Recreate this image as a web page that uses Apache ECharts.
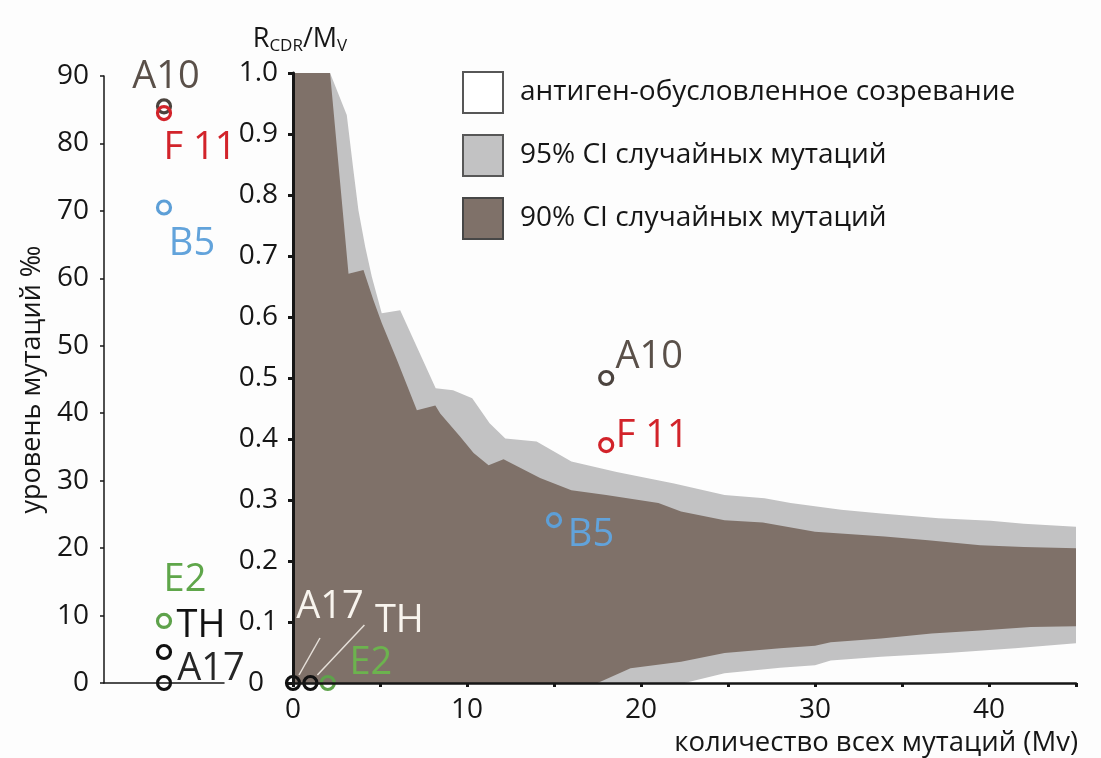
<!DOCTYPE html>
<html>
<head>
<meta charset="utf-8">
<script src="https://cdn.jsdelivr.net/npm/echarts@6/dist/echarts.min.js"></script>
<style>
  html, body { margin: 0; padding: 0; background: #fdfdfd; }
  #chart { width: 1101px; height: 758px; }
</style>
</head>
<body>
<div id="chart"></div>
<script>
// ---- data ----
const cloneNames    = ['A10', 'F 11', 'B5', 'E2', 'TH', 'A17'];
const mutationLevel = [85.5, 84.5, 70.5, 9.2, 4.6, 0];      // ‰, left panel
const cloneMv       = [18, 18, 15, 2, 1, 0];                // total mutations
const cloneRatio    = [0.50, 0.39, 0.267, 0, 0, 0];         // R_CDR / M_V

const legendNames = ['антиген-обусловленное созревание', '95% CI случайных мутаций', '90% CI случайных мутаций'];

// 95% CI of random mutation, upper bound
const ci95UpperX = [0, 2.13, 3.09, 3.47, 3.76, 4.15, 4.53, 5.1, 6.16, 8.2, 9.2, 10.3, 11.3, 12.2, 14.0, 16.0, 18.6, 21.9, 24.8, 27.1, 28.6, 31.5, 33.8, 37.1, 40.1, 42.0, 45];
const ci95UpperY = [1.0, 1.0, 0.931, 0.841, 0.775, 0.715, 0.666, 0.606, 0.611, 0.483, 0.48, 0.467, 0.426, 0.401, 0.396, 0.363, 0.346, 0.327, 0.308, 0.303, 0.295, 0.284, 0.278, 0.270, 0.266, 0.261, 0.256];
// 90% CI, upper bound
const ci90UpperX = [0, 2.13, 3.19, 4.05, 4.62, 5.1, 5.97, 7.12, 8.18, 8.46, 9.6, 10.38, 11.24, 12.1, 14.2, 16.0, 18.0, 21.0, 22.3, 24.8, 27.0, 30.0, 34.0, 36.5, 39.5, 42.0, 45];
const ci90UpperY = [1.0, 1.0, 0.671, 0.677, 0.628, 0.59, 0.53, 0.447, 0.455, 0.442, 0.404, 0.377, 0.357, 0.367, 0.336, 0.316, 0.308, 0.295, 0.281, 0.267, 0.263, 0.248, 0.240, 0.234, 0.226, 0.223, 0.221];
// 90% CI, lower bound
const ci90LowerX = [0, 17.5, 19.4, 22.3, 24.8, 28.0, 30.0, 30.9, 33.8, 36.7, 39.5, 42.4, 45];
const ci90LowerY = [0, 0, 0.024, 0.035, 0.049, 0.057, 0.061, 0.067, 0.073, 0.081, 0.086, 0.092, 0.093];
// 95% CI, lower bound
const ci95LowerX = [0, 22.5, 24.8, 28.0, 30.0, 30.9, 33.8, 37.6, 41.5, 45];
const ci95LowerY = [0, 0, 0.016, 0.025, 0.029, 0.037, 0.043, 0.049, 0.057, 0.065];

const leftTicks  = { min: 0, max: 90, step: 10 };
const rightYTicks = { min: 0, max: 1, step: 0.1 };
const rightXTicks = { min: 0, max: 45, step: 5, labelEvery: 10 };

// ---- styles ----
const FONT = 'Open Sans';
const INK = '#161616';
const BG = '#fdfdfd';
const GRAY = '#c2c2c3';
const BROWN = '#7f7169';

const markerColor = { 'A10': '#4b433e', 'F 11': '#d2232a', 'B5': '#5d9fd7', 'E2': '#5ea24b', 'TH': '#111111', 'A17': '#111111' };
const leftTextColor  = { 'A10': '#5a5049', 'F 11': '#d2232a', 'B5': '#62a3db', 'E2': '#5fa64a', 'TH': '#111111', 'A17': '#262626' };
const rightTextColor = { 'A10': '#5a5049', 'F 11': '#d2232a', 'B5': '#62a3db', 'E2': '#6cb34e', 'TH': '#f8f4ee', 'A17': '#f8f4ee' };
// label centre offsets from each marker centre (px)
const leftOffsets  = { 'A10': [2, -29], 'F 11': [36, 35], 'B5': [28, 37], 'E2': [21, -41], 'TH': [37, -26], 'A17': [47, -14] };
const rightOffsets = { 'A10': [43, -21], 'F 11': [46, -9], 'B5': [37, 15], 'E2': [43, -20], 'TH': [89, -62], 'A17': [37, -76] };
// leader lines for the white labels: [start offset, end offset] from the marker
const leaderLines = { 'A17': [[6, -8], [27, -45]], 'TH': [[7, -8], [54, -58]] };

const zip = (xs, ys) => xs.map((x, i) => [x, ys[i]]);

function placeLabels(offsets) {
  return function (p) {
    const o = offsets[cloneNames[p.dataIndex]];
    return {
      x: p.rect.x + p.rect.width / 2 + o[0],
      y: p.rect.y + p.rect.height / 2 + o[1],
      align: 'center',
      verticalAlign: 'middle'
    };
  };
}

function band(name, xs, ys, fill, z) {
  return {
    name: name, type: 'line', xAxisIndex: 1, yAxisIndex: 1,
    data: zip(xs, ys), symbol: 'none', silent: true, z: z,
    lineStyle: { width: 0 }, itemStyle: { color: fill },
    areaStyle: { color: fill, opacity: 1 }
  };
}

function cloneSeries(name, gridIdx, values, textColor, offsets) {
  return {
    name: name, type: 'scatter', xAxisIndex: gridIdx, yAxisIndex: gridIdx,
    symbol: 'circle', symbolSize: 13, z: 6, silent: true,
    itemStyle: { color: 'rgba(0,0,0,0)', borderWidth: 3.2, opacity: 1 },
    label: { show: true, formatter: '{b}', fontFamily: FONT, fontSize: 38, opacity: 1 },
    labelLayout: placeLabels(offsets),
    data: cloneNames.map((n, i) => ({
      name: n, value: values[i],
      itemStyle: { borderColor: markerColor[n], opacity: 1 },
      label: { color: textColor[n] }
    }))
  };
}

const chart = echarts.init(document.getElementById('chart'), null, { renderer: 'canvas' });

chart.setOption({
  backgroundColor: BG,
  animation: false,
  textStyle: { fontFamily: FONT },
  legend: {
    orient: 'vertical', left: 462, top: 71, padding: 0,
    itemWidth: 40, itemHeight: 41, itemGap: 20, icon: 'rect',
    selectedMode: false,
    textStyle: { fontFamily: FONT, fontSize: 28, color: INK, padding: [0, 0, 0, 12] },
    data: [
      { name: legendNames[0], itemStyle: { color: '#ffffff', borderColor: '#575757', borderWidth: 2 } },
      { name: legendNames[1], itemStyle: { color: GRAY, borderColor: '#575757', borderWidth: 2 } },
      { name: legendNames[2], itemStyle: { color: BROWN, borderColor: '#474747', borderWidth: 2 } }
    ]
  },
  grid: [
    { left: 104, top: 76, width: 120, height: 607 },
    { left: 293, top: 73, width: 783, height: 610 }
  ],
  xAxis: [
    {
      gridIndex: 0, type: 'value', min: 0, max: 2, z: 10,
      axisLine: { onZero: false, lineStyle: { color: INK, width: 1.5 } },
      axisTick: { show: false }, axisLabel: { show: false }, splitLine: { show: false }
    },
    {
      gridIndex: 1, type: 'value', min: rightXTicks.min, max: rightXTicks.max, interval: rightXTicks.step, z: 10,
      axisLine: { onZero: false, lineStyle: { color: INK, width: 2.5 } },
      axisTick: { length: 4, lineStyle: { color: INK, width: 3 } },
      axisLabel: {
        fontFamily: FONT, fontSize: 28, color: INK, margin: 13,
        formatter: v => (v % rightXTicks.labelEvery === 0 ? String(v) : '')
      },
      splitLine: { show: false },
      name: 'количество всех мутаций (Mv)', nameLocation: 'end', nameGap: 2,
      nameTextStyle: { fontFamily: FONT, fontSize: 27.5, color: INK, align: 'right', verticalAlign: 'top', padding: [46, 0, 0, 0] }
    }
  ],
  yAxis: [
    {
      gridIndex: 0, type: 'value', min: leftTicks.min, max: leftTicks.max, interval: leftTicks.step, z: 10,
      axisLine: { show: true, onZero: false, lineStyle: { color: INK, width: 1.5 } },
      axisTick: { show: true, length: 4, lineStyle: { color: INK, width: 1.5 } },
      axisLabel: { fontFamily: FONT, fontSize: 28, color: INK, margin: 15 },
      splitLine: { show: false },
      name: 'уровень мутаций ‰', nameLocation: 'middle', nameGap: 58,
      nameTextStyle: { fontFamily: FONT, fontSize: 27, color: INK }
    },
    {
      gridIndex: 1, type: 'value', min: rightYTicks.min, max: rightYTicks.max, interval: rightYTicks.step, z: 10,
      axisLine: { show: true, onZero: false, lineStyle: { color: INK, width: 3 } },
      axisTick: { show: true, length: 5, lineStyle: { color: INK, width: 3 } },
      axisLabel: {
        fontFamily: FONT, fontSize: 28, color: INK, margin: 15,
        formatter: v => (Math.abs(v) < 1e-9 ? '{z|0}' : v.toFixed(1)),
        rich: { z: { fontFamily: FONT, fontSize: 28, color: INK, width: 30, align: 'left' } }
      },
      splitLine: { show: false },
      name: '{r|R}{s|CDR}{r|/M}{s|V}', nameLocation: 'end', nameGap: 18,
      nameTextStyle: {
        padding: [0, 0, 0, 14],
        rich: {
          r: { fontFamily: FONT, fontSize: 27, color: INK, lineHeight: 32, verticalAlign: 'middle' },
          s: { fontFamily: FONT, fontSize: 17, color: INK, lineHeight: 32, verticalAlign: 'bottom' }
        }
      }
    }
  ],
  series: [
    band(legendNames[1], ci95UpperX, ci95UpperY, GRAY, 1),
    band(legendNames[2], ci90UpperX, ci90UpperY, BROWN, 2),
    band('90% CI нижняя граница', ci90LowerX, ci90LowerY, GRAY, 3),
    band('95% CI нижняя граница', ci95LowerX, ci95LowerY, BG, 4),
    cloneSeries(legendNames[0], 1, cloneNames.map((n, i) => [cloneMv[i], cloneRatio[i]]), rightTextColor, rightOffsets),
    cloneSeries('уровень мутаций', 0, mutationLevel.map(v => [1, v]), leftTextColor, leftOffsets)
  ]
});

// thin leader lines tying the white labels to their markers
const leaders = Object.keys(leaderLines).map(n => {
  const i = cloneNames.indexOf(n);
  const p = chart.convertToPixel({ gridIndex: 1 }, [cloneMv[i], cloneRatio[i]]);
  const [a, b] = leaderLines[n];
  return {
    type: 'line', z: 20, silent: true,
    shape: { x1: p[0] + a[0], y1: p[1] + a[1], x2: p[0] + b[0], y2: p[1] + b[1] },
    style: { stroke: '#e6e0d9', lineWidth: 1.5 }
  };
});
chart.setOption({ graphic: leaders });
</script>
</body>
</html>
